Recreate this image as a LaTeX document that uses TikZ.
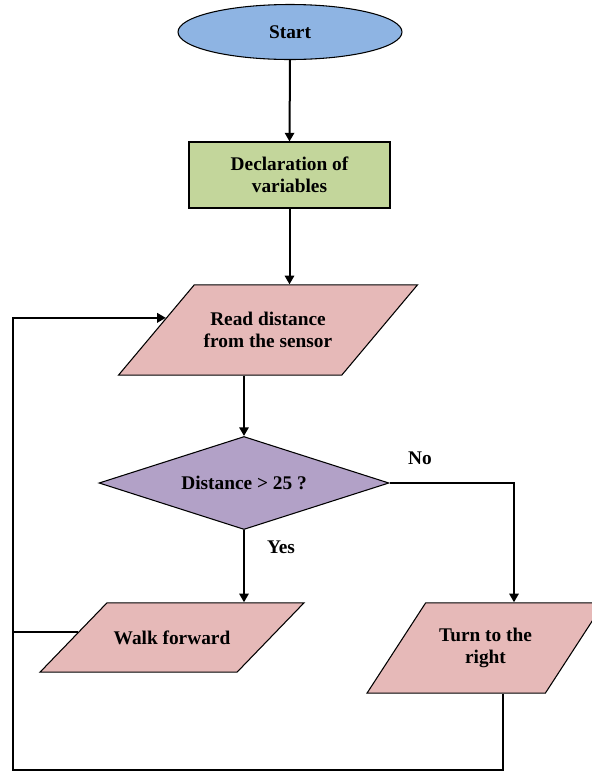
\documentclass[tikz,border=0pt]{standalone}
\usepackage{fontspec}
\setmainfont{Liberation Serif}
\usepackage{tikz}
\usetikzlibrary{arrows.meta,positioning,calc,shapes.geometric}
\definecolor{startblue}{HTML}{8EB4E3}
\definecolor{declgreen}{HTML}{C3D69B}
\definecolor{iopink}{HTML}{E6B9B8}
\definecolor{testviolet}{HTML}{B2A1C7}
\tikzset{
  terminal/.style={draw=black,fill=startblue,ellipse,line width=0.8pt,
    minimum width=224*0.75pt,minimum height=55*0.75pt,font=\bfseries\fontsize{14.5}{16.5}\selectfont},
  process/.style={draw=black,fill=declgreen,line width=0.8pt,align=center,
    minimum width=201*0.75pt,minimum height=66*0.75pt,font=\bfseries\fontsize{14.5}{16.5}\selectfont},
  io/.style={draw=black,fill=iopink,trapezium,trapezium stretches body,line width=0.8pt,
    align=center,font=\bfseries\fontsize{14.5}{16.5}\selectfont},
  decision/.style={draw=black,fill=testviolet,diamond,aspect=3.12,line width=0.8pt,inner sep=0pt,
    minimum width=290*0.75pt,minimum height=93*0.75pt,font=\bfseries\fontsize{14.5}{16.5}\selectfont},
  answer/.style={font=\bfseries\fontsize{14.5}{16.5}\selectfont},
  arrow/.style={-{Triangle[length=6.5pt,width=7pt]},draw=black,line width=1.5pt},
  link/.style={draw=black,line width=1.5pt}
}
\begin{document}
\begin{tikzpicture}[x=0.75pt,y=-0.75pt]
  \useasboundingbox (0,0) rectangle (592,772);
  \node[terminal] (start) at (290,32) {Start};
  \node[process] (decl) at (289.5,175) {Declaration of\\variables};
  \node[io,trapezium left angle=50,trapezium right angle=130,inner ysep=20.5pt,
    minimum width=299*0.75pt,minimum height=90*0.75pt] (read) at (268,330) {Read distance\\from the sensor};
  \node[decision] (check) at (244,483) {Distance > 25 ?};
  \node[io,trapezium left angle=46,trapezium right angle=134,inner ysep=20.8pt,
    minimum width=264*0.75pt,minimum height=69*0.75pt] (walk) at (172,637.5) {Walk forward};
  \node[io,trapezium left angle=57,trapezium right angle=123,inner ysep=19pt,
    minimum width=237*0.75pt,minimum height=90*0.75pt] (turn) at (485.5,648) {Turn to the\\right};
  \node[answer] (yes) at (281,547) {Yes};
  \node[answer] (no) at (420,458) {No};
  \coordinate (nocorner) at (514,483);
  \coordinate (back) at (13,770);
  \coordinate (readin) at ($(read.bottom left corner)!0.633!(read.top left corner)$);
  \coordinate (walkout) at ($(walk.bottom left corner)!0.58!(walk.top left corner)$);
  \coordinate (turnout) at ($(turn.bottom left corner)!0.764!(turn.bottom right corner)$);
  \draw[arrow] (start.south) -- (decl.north);
  \draw[arrow] (decl.south) -- (decl.south |- read.north);
  \draw[arrow] (check.north |- read.south) -- (check.north);
  \draw[arrow] (check.south) -- (check.south |- walk.north);
  \draw[arrow] (check.east) -- (nocorner) -- (nocorner |- turn.north);
  \draw[link] (walkout) -- (walkout -| back);
  \draw[arrow] (turnout) |- (back) |- (readin);
\end{tikzpicture}
\end{document}
